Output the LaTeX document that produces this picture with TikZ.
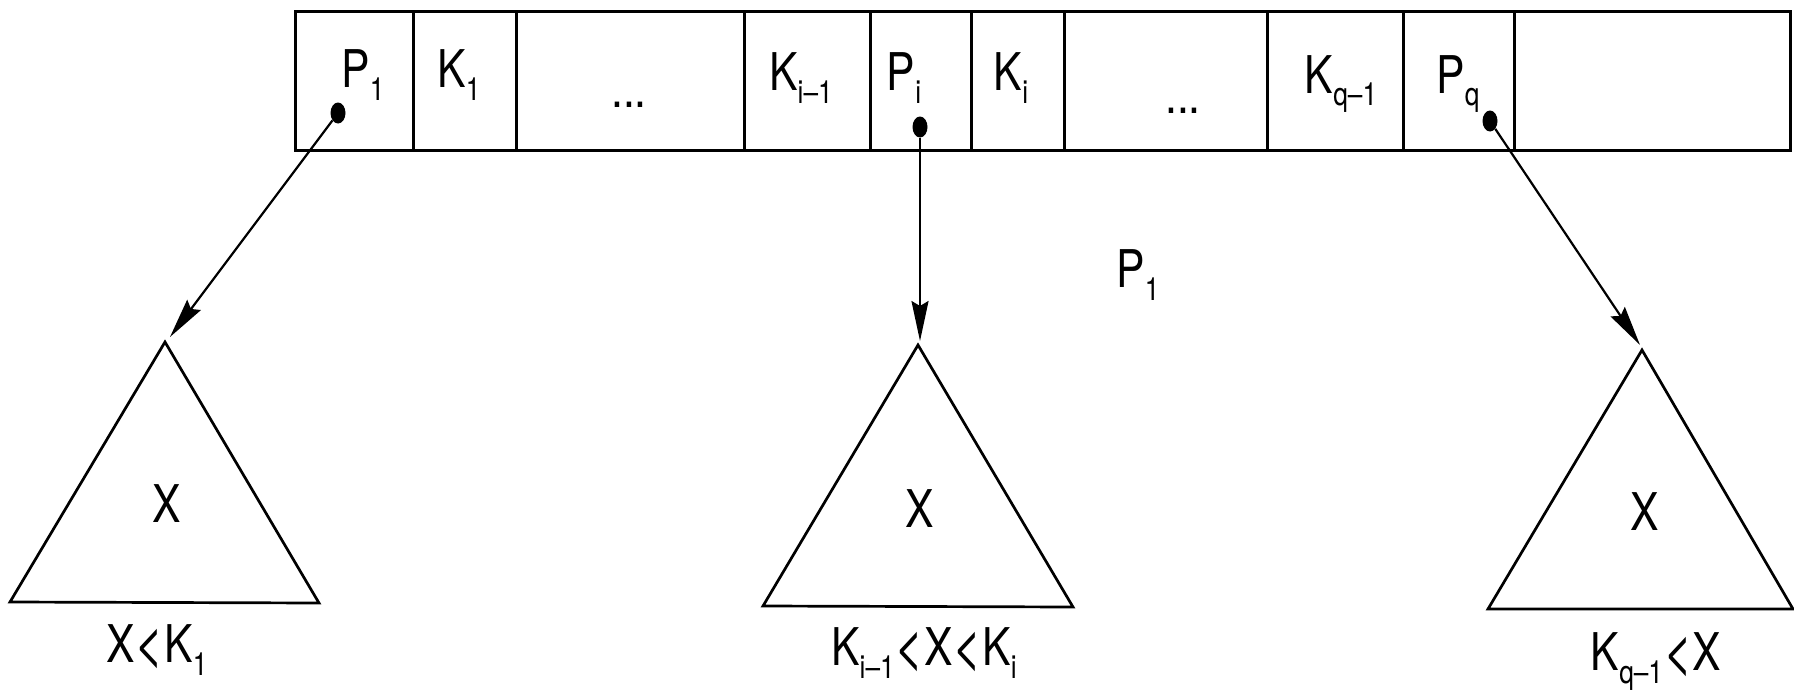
\documentclass[tikz,border=0pt]{standalone}
\usepackage{fontspec}
\setmainfont{TeX Gyre Heros}[FakeStretch=0.82]
\usetikzlibrary{arrows.meta,shapes.geometric}
\newcommand\sbs[1]{\raisebox{-13pt}{\fontsize{32}{32}\selectfont #1}}
\newcommand\lt{\raisebox{-2pt}{\fontsize{62}{62}\selectfont <}}
\begin{document}
\begin{tikzpicture}[x=1pt,y=-1pt,
  cell/.style={draw,line width=3pt,rectangle,inner sep=0pt,minimum height=138pt},
  lab/.style={inner sep=0pt,anchor=base,font=\fontsize{52}{60}\selectfont},
  dotp/.style={ellipse,fill=black,draw=none,minimum width=15pt,minimum height=21pt,inner sep=0pt},
  tri/.style={draw,line width=2.7pt,line join=miter},
  ptr/.style={line width=2.2pt,-{Stealth[length=40pt,width=17pt,inset=5pt]}}]
\useasboundingbox (0,0) rectangle (1794,693);
% record cells
\node[cell,minimum width=118pt] (c1) at (354,81) {};
\node[cell,minimum width=103pt] (c2) at (464.5,81) {};
\node[cell,minimum width=228pt] (c3) at (630,81) {};
\node[cell,minimum width=126pt] (c4) at (807,81) {};
\node[cell,minimum width=101pt] (c5) at (920.5,81) {};
\node[cell,minimum width=93pt] (c6) at (1017.5,81) {};
\node[cell,minimum width=203pt] (c7) at (1165.5,81) {};
\node[cell,minimum width=136pt] (c8) at (1335,81) {};
\node[cell,minimum width=111pt] (c9) at (1458.5,81) {};
\node[cell,minimum width=276pt] (c10) at (1652,81) {};
% labels in cells
\node[lab] (l1) at (363,88) {P\sbs{1}};
\node[lab] (l2) at (459,88) {K\sbs{1}};
\node[lab] (l3) at (629,107) {...};
\node[lab] (l4) at (801,91) {K\sbs{i--1}};
\node[lab] (l5) at (904,91) {P\sbs{i}};
\node[lab] (l6) at (1011,91) {K\sbs{i}};
\node[lab] (l7) at (1183,113) {...};
\node[lab] (l8) at (1341,93) {K\sbs{q--1}};
\node[lab] (l9) at (1458,93) {P\sbs{q}};
% pointer dots
\node[dotp] (d1) at (338,113) {};
\node[dotp] (d2) at (920,127) {};
\node[dotp] (d3) at (1490,121) {};
% subtrees
\coordinate (t1) at (165,342);
\coordinate (t2) at (918,345);
\coordinate (t3) at (1642,350);
\draw[tri] (t1) -- (319,603) -- (10,602) -- cycle;
\draw[tri] (t2) -- (1073,607) -- (763,606) -- cycle;
\draw[tri] (t3) -- (1793,609) -- (1488,609) -- cycle;
\node[lab] (x1) at (167,522) {X};
\node[lab] (x2) at (920,527) {X};
\node[lab] (x3) at (1645,530) {X};
\node[lab] (b1) at (157,662) {X\lt K\sbs{1}};
\node[lab] (b2) at (924,665) {K\sbs{i--1}\lt X\lt K\sbs{i}};
\node[lab] (b3) at (1656,670) {K\sbs{q--1}\lt X};
\node[lab] (p1) at (1138,287) {P\sbs{1}};
% arrow ends
\coordinate (e1) at (170,337);
\coordinate (e2) at (920,341);
\coordinate (e3) at (1640,345);
\draw[ptr] (d1) -- (e1);
\draw[ptr] (d2) -- (e2);
\draw[ptr] (d3) -- (e3);
\end{tikzpicture}
\end{document}
